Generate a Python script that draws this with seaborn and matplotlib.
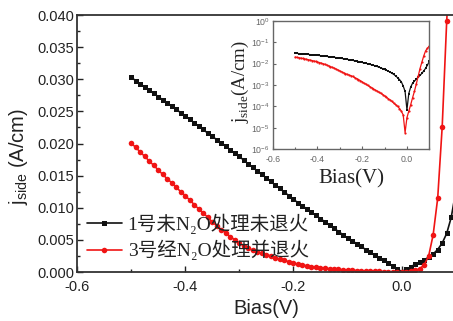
import numpy as np
import matplotlib
matplotlib.use("Agg")
import matplotlib.pyplot as plt
import matplotlib.ticker as mticker
import seaborn as sns

# bias sweep (V), 1/120 V step from -0.5 to 0.1
bias = np.round(np.linspace(-0.5, 0.1, 73), 4)

# sample 1: no N2O treatment, not annealed (A/cm)
j_untreated = [
    0.0303, 0.0298, 0.0293, 0.0288, 0.0283, 0.0278, 0.0273, 0.0268, 0.0263, 0.0258,
    0.0253, 0.0248, 0.0243, 0.0238, 0.0232, 0.0227, 0.0222, 0.0216, 0.0211, 0.0206,
    0.0201, 0.0196, 0.0190, 0.0185, 0.0180, 0.0174, 0.0168, 0.0163, 0.0157, 0.0152,
    0.0146, 0.0141, 0.0135, 0.0130, 0.0124, 0.0119, 0.0113, 0.0108, 0.0103, 0.0098,
    0.0093, 0.0088, 0.0083, 0.0078, 0.0073, 0.0068, 0.0063, 0.0058, 0.0053, 0.0049,
    0.0044, 0.0040, 0.0035, 0.0031, 0.0026, 0.0022, 0.0018, 0.0014, 0.0009, 0.0005,
    0.00007, 0.0004, 0.0008, 0.0012, 0.0015, 0.0019, 0.0023, 0.0028, 0.0035, 0.0045,
    0.0060, 0.0085, 0.0125,
]

# sample 3: N2O treated and annealed (A/cm)
j_treated = [
    0.0201, 0.0194, 0.0187, 0.0180, 0.0173, 0.0166, 0.0159, 0.0152, 0.0145, 0.0139,
    0.0132, 0.0125, 0.0119, 0.0112, 0.0105, 0.0098, 0.0092, 0.0085, 0.0078, 0.0072,
    0.0066, 0.0061, 0.0055, 0.0050, 0.0045, 0.0041, 0.0037, 0.0034, 0.0031, 0.0029,
    0.0027, 0.0025, 0.0022, 0.0020, 0.0018, 0.0016, 0.0014, 0.0012, 0.0011, 0.00095,
    0.00085, 0.00075, 0.00066, 0.00058, 0.00052, 0.00046, 0.00041, 0.00036, 0.00031, 0.00027,
    0.00023, 0.00020, 0.00017, 0.00014, 0.00012, 0.00010, 0.00008, 0.00006, 0.00004, 0.000006,
    0.00003, 0.00006, 0.00012, 0.00025, 0.0005, 0.0011, 0.0025, 0.0058, 0.0115, 0.0226,
    0.039, 0.052, 0.065,
]

labels = ["1号未N₂O处理未退火", "3号经N₂O处理并退火"]
colors = ["#111111", "#f01414"]

sns.set_theme(style="ticks")
plt.rcParams["font.family"] = ["Liberation Sans", "DejaVu Sans"]
plt.rcParams["mathtext.fontset"] = "custom"
plt.rcParams["mathtext.rm"] = "Liberation Sans"
plt.rcParams["mathtext.it"] = "Liberation Sans:italic"

fig = plt.figure(figsize=(4.53, 3.21), dpi=100)
ax = fig.add_axes([0.170, 0.1526, 0.836, 0.8006])

sns.lineplot(x=bias, y=j_untreated, ax=ax, color=colors[0], marker="s", markersize=3.6,
             markeredgewidth=0, linewidth=1.2, label=labels[0])
sns.lineplot(x=bias, y=j_treated, ax=ax, color=colors[1], marker="o", markersize=4.0,
             markeredgewidth=0, linewidth=1.2, label=labels[1])

ax.set_xlim(-0.6, 0.1)
ax.set_ylim(0, 0.040)
ax.set_xticks([-0.6, -0.4, -0.2, 0.0])
ax.xaxis.set_minor_locator(mticker.MultipleLocator(0.1))
ax.yaxis.set_major_locator(mticker.MultipleLocator(0.005))
ax.yaxis.set_minor_locator(mticker.MultipleLocator(0.0025))
ax.yaxis.set_major_formatter(mticker.FormatStrFormatter("%.3f"))
ax.xaxis.set_major_formatter(mticker.FormatStrFormatter("%.1f"))
ax.tick_params(which="both", direction="in", colors="#222222", labelsize=10.5,
               width=1.0, pad=2)
ax.tick_params(axis="x", pad=6)
ax.tick_params(which="major", length=4)
ax.tick_params(which="minor", length=2.5)
for sp in ax.spines.values():
    sp.set_color("#333333")
    sp.set_linewidth(1.3)

ax.set_xlabel("Bias(V)", fontsize=14.5, color="#222222")
ax.set_ylabel("j$_\\mathregular{side}$ (A/cm)", fontsize=14.5, color="#222222")
ax.xaxis.set_label_coords(0.5, -0.105)
ax.yaxis.set_label_coords(-0.125, 0.45)

leg = ax.legend(loc="lower left", bbox_to_anchor=(0.026, 0.045), frameon=False,
                handlelength=1.8, handletextpad=0.3, labelspacing=0.3,
                borderaxespad=0, borderpad=0,
                prop={"family": ["Liberation Serif", "Noto Sans CJK SC", "DejaVu Serif"],
                      "size": 14})
for t in leg.get_texts():
    t.set_color("#222222")

# inset, log scale
ins = fig.add_axes([0.602, 0.5349, 0.3457, 0.4006])
sns.lineplot(x=bias, y=j_untreated, ax=ins, color=colors[0], marker="s", markersize=1.6,
             markeredgewidth=0, linewidth=0.9, legend=False)
sns.lineplot(x=bias, y=j_treated, ax=ins, color=colors[1], marker="o", markersize=1.6,
             markeredgewidth=0, linewidth=0.9, legend=False)
ins.set_yscale("log")
ins.set_xlim(-0.6, 0.1)
ins.set_ylim(1e-6, 1)
ins.set_xticks([-0.6, -0.4, -0.2, 0.0])
ins.xaxis.set_minor_locator(mticker.MultipleLocator(0.1))
ins.xaxis.set_major_formatter(mticker.FormatStrFormatter("%.1f"))
ins.yaxis.set_major_locator(mticker.LogLocator(base=10, numticks=10))
ins.yaxis.set_minor_locator(mticker.NullLocator())
ins.tick_params(which="both", direction="in", colors="#666666", labelsize=6.3,
                width=0.8, pad=2.2)
ins.tick_params(axis="x", pad=3.8)
ins.tick_params(which="major", length=2.5)
ins.tick_params(which="minor", length=1.5)
for sp in ins.spines.values():
    sp.set_color("#666666")
    sp.set_linewidth(1.0)
ins.set_xlabel("Bias(V)", fontsize=15, family="Liberation Serif", color="#222222")
ins.set_ylabel("j$_\\mathregular{side}$(A/cm)", fontsize=13.5, family="Liberation Serif",
               color="#222222")
ins.xaxis.set_label_coords(0.5, -0.155)
ins.yaxis.set_label_coords(-0.14, 0.53)

fig.savefig("out.png", dpi=100)
